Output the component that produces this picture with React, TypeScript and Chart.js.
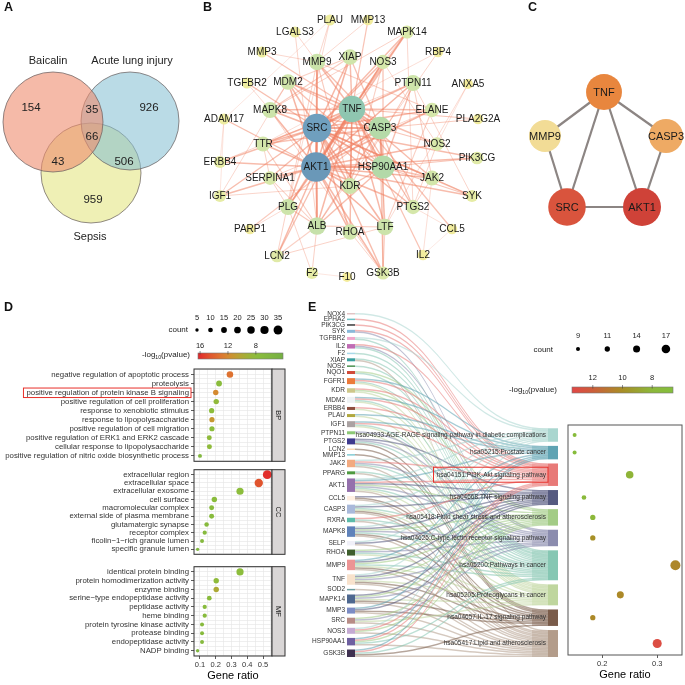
import React, { useEffect, useRef } from "react";
import { Chart, registerables } from "chart.js";

Chart.register(...registerables);
const FONT = "'Liberation Sans', Arial, Helvetica, sans-serif";
Chart.defaults.font.family = FONT;
Chart.defaults.color = "#333";

// ================= Panel A : Venn =================
const vennSets = ["Baicalin", "Acute lung injury", "Sepsis"];
const vennCenterX = [53, 130, 91];
const vennCenterY = [122, 121, 173];
const vennRadius = [50, 49, 50];
const vennRegionValues = [154, 926, 959, 35, 43, 506, 66];
const vennRegionX = [31, 149, 93, 92, 58, 124, 92];
const vennRegionY = [108, 108, 200, 110, 162, 162, 137];
const vennSetLabelX = [48, 132, 90];
const vennSetLabelY = [61, 61, 237];

// ================= Panel B : PPI network =================
const netNames = ["PLAU","MMP13","LGALS3","MAPK14","MMP3","MMP9","XIAP","NOS3","RBP4","TGFBR2","MDM2","PTPN11","ANXA5","MAPK8","TNF","ELANE","ADAM17","SRC","CASP3","PLA2G2A","TTR","NOS2","ERBB4","AKT1","HSP90AA1","PIK3CG","SERPINA1","JAK2","KDR","IGF1","SYK","PLG","PTGS2","PARP1","ALB","RHOA","LTF","CCL5","LCN2","IL2","F2","F10","GSK3B"];
const netX = [330,368,295,407,262,317,350,383,438,247,288,413,468,270,352,432,224,317,380,478,263,437,220,316,383,477,270,432,350,220,472,288,413,250,317,350,385,452,277,423,312,347,383];
const netY = [20,20,32,32,52,62,57,62,52,83,82,83,84,110,109,110,119,128,128,119,144,144,162,167,167,158,178,178,186,196,196,207,207,229,226,232,227,229,256,255,273,277,273];
const netDegree = [4,3,4,8,4,14,12,10,3,4,12,13,2,13,32,10,4,36,25,3,11,9,6,38,26,7,9,11,13,6,6,13,10,3,16,12,14,3,7,3,6,2,8];
const netEdges = [
  "AKT1-SRC","AKT1-TNF","AKT1-CASP3","AKT1-HSP90AA1","AKT1-KDR","AKT1-ALB","AKT1-RHOA","AKT1-PLG","AKT1-LCN2","AKT1-GSK3B","AKT1-MMP9","AKT1-MDM2","AKT1-XIAP","AKT1-NOS3","AKT1-PTPN11","AKT1-MAPK8","AKT1-TTR","AKT1-SERPINA1","AKT1-JAK2","AKT1-PTGS2","AKT1-LTF","AKT1-NOS2","AKT1-ELANE","AKT1-IGF1","AKT1-ERBB4","AKT1-ADAM17","AKT1-PIK3CG","AKT1-SYK","AKT1-MAPK14",
  "SRC-TNF","SRC-CASP3","SRC-HSP90AA1","SRC-KDR","SRC-MAPK8","SRC-MAPK14","SRC-PTPN11","SRC-MMP9","SRC-XIAP","SRC-RHOA","SRC-ALB","SRC-PLG","SRC-TTR","SRC-JAK2","SRC-PIK3CG","SRC-SYK","SRC-ERBB4","SRC-IGF1","SRC-NOS3","SRC-ELANE","SRC-GSK3B","SRC-PTGS2","SRC-TGFBR2","SRC-MDM2","SRC-LTF",
  "TNF-CASP3","TNF-HSP90AA1","TNF-MMP9","TNF-MAPK8","TNF-MAPK14","TNF-NOS3","TNF-NOS2","TNF-PTGS2","TNF-ALB","TNF-LTF","TNF-IL2","TNF-CCL5","TNF-MMP3","TNF-MMP13","TNF-ELANE","TNF-TTR","TNF-SERPINA1","TNF-RHOA","TNF-XIAP","TNF-PLG","TNF-KDR","TNF-LCN2","TNF-MDM2","TNF-JAK2","TNF-PLA2G2A",
  "CASP3-HSP90AA1","CASP3-XIAP","CASP3-MDM2","CASP3-MMP9","CASP3-MAPK8","CASP3-PARP1","CASP3-PTGS2","CASP3-ALB","CASP3-NOS2","CASP3-PLA2G2A","CASP3-LTF","CASP3-GSK3B","CASP3-TTR",
  "HSP90AA1-NOS3","HSP90AA1-JAK2","HSP90AA1-KDR","HSP90AA1-PTPN11","HSP90AA1-MDM2","HSP90AA1-PIK3CG","HSP90AA1-GSK3B","HSP90AA1-ALB","HSP90AA1-SYK",
  "F2-F10","F2-PLG","F2-ALB","PLG-SERPINA1","PLG-PARP1","PLG-ALB","PLG-PLAU","ALB-LTF","ALB-TTR","ALB-SERPINA1","ALB-RBP4","ALB-LCN2","ALB-LGALS3","LTF-ELANE","LTF-LCN2","LTF-ANXA5","ELANE-SERPINA1","MMP9-MMP3","MMP9-MMP13","MMP9-LCN2","MMP9-PLAU","MMP9-ELANE","MMP9-LGALS3","MMP9-KDR","NOS3-KDR","NOS3-NOS2","NOS3-MAPK14","JAK2-SYK","JAK2-PTPN11","JAK2-IL2","JAK2-PTGS2","PTPN11-KDR","PTPN11-SYK","PTPN11-ERBB4","MAPK8-MAPK14","MAPK8-XIAP","MAPK8-GSK3B","MAPK8-MDM2","XIAP-MDM2","MDM2-IGF1","KDR-IGF1","RHOA-GSK3B","TTR-RBP4","PLAU-ADAM17","NOS2-ANXA5","NOS2-PTGS2","CCL5-IL2","CCL5-PTGS2","ERBB4-ADAM17","IGF1-ADAM17","MAPK14-PTGS2","GSK3B-LTF","SERPINA1-TTR","TGFBR2-MAPK8"
];

// ================= Panel C : hub genes =================
const hubNames = ["TNF", "MMP9", "CASP3", "SRC", "AKT1"];
const hubX = [604, 545, 666, 567, 642];
const hubY = [92, 136, 136, 207, 207];
const hubScore = [0.7, 0.15, 0.45, 0.93, 1.0];
const hubEdges = ["TNF-MMP9", "TNF-CASP3", "TNF-SRC", "TNF-AKT1", "MMP9-SRC", "CASP3-AKT1", "SRC-AKT1"];

// ================= Panel D : GO enrichment =================
const bpTerms = ["negative regulation of apoptotic process","proteolysis","positive regulation of protein kinase B signaling","positive regulation of cell proliferation","response to xenobiotic stimulus","response to lipopolysaccharide","positive regulation of cell migration","positive regulation of ERK1 and ERK2 cascade","cellular response to lipopolysaccharide","positive regulation of nitric oxide biosynthetic process"];
const bpRatio = [0.29, 0.221, 0.2, 0.203, 0.174, 0.176, 0.176, 0.159, 0.16, 0.1];
const bpCount = [19, 15, 13, 13, 12, 12, 12, 11, 11, 7];
const bpLogP = [13.2, 7.6, 12.0, 8.3, 8.0, 11.2, 8.0, 8.2, 8.2, 6.4];

const ccTerms = ["extracellular region","extracellular space","extracellular exosome","cell surface","macromolecular complex","external side of plasma membrane","glutamatergic synapse","receptor complex","ficolin\u22121\u2212rich granule lumen","specific granule lumen"];
const ccRatio = [0.527, 0.473, 0.354, 0.191, 0.174, 0.174, 0.142, 0.13, 0.113, 0.085];
const ccCount = [35, 31, 23, 13, 11, 11, 9, 8, 7, 5];
const ccLogP = [16.0, 14.6, 8.0, 7.6, 7.4, 7.4, 7.2, 7.0, 6.8, 6.0];

const mfTerms = ["identical protein binding","protein homodimerization activity","enzyme binding","serine\u2212type endopeptidase activity","peptidase activity","heme binding","protein tyrosine kinase activity","protease binding","endopeptidase activity","NADP binding"];
const mfRatio = [0.354, 0.203, 0.203, 0.159, 0.13, 0.13, 0.113, 0.113, 0.113, 0.085];
const mfCount = [23, 13, 13, 10, 8, 8, 7, 7, 7, 5];
const mfLogP = [8.0, 8.2, 9.9, 7.6, 7.4, 7.4, 7.2, 7.2, 7.0, 6.0];

const dXTicks = [0.1, 0.15, 0.2, 0.25, 0.3, 0.35, 0.4, 0.45, 0.5, 0.55];
const dLegendCounts = [5, 10, 15, 20, 25, 30, 35];
const dLegendLogP = [16, 12, 8];

// ================= Panel E : KEGG sankey + dot plot =================
const sankeyGenes = ["NOX4","EPHA2","PIK3CG","SYK","TGFBR2","IL2","F2","XIAP","NOS2","NQO1","FGFR1","KDR","MDM2","ERBB4","PLAU","IGF1","PTPN11","PTGS2","LCN2","MMP13","JAK2","PPARG","AKT1","CCL5","CASP3","RXRA","MAPK8","SELP","RHOA","MMP9","TNF","SOD2","MAPK14","MMP3","SRC","NOS3","HSP90AA1","GSK3B"];
const pathwayIds = ["hsa04933","hsa05215","hsa04151","hsa04668","hsa05418","hsa04625","hsa05200","hsa05205","hsa04657","hsa05417"];
const pathwayNames = ["AGE-RAGE signaling pathway in diabetic complications","Prostate cancer","PI3K-Akt signaling pathway","TNF signaling pathway","Fluid shear stress and atherosclerosis","C-type lectin receptor signaling pathway","Pathways in cancer","Proteoglycans in cancer","IL-17 signaling pathway","Lipid and atherosclerosis"];
const pathwayGenes = [
  ["NOX4","TGFBR2","JAK2","AKT1","CASP3","MAPK8","SELP","TNF","NOS3"],
  ["FGFR1","MDM2","PLAU","IGF1","AKT1","MMP3","MMP9","HSP90AA1","GSK3B"],
  ["EPHA2","PIK3CG","SYK","IL2","FGFR1","KDR","MDM2","ERBB4","IGF1","JAK2","AKT1","RXRA","NOS3","HSP90AA1","GSK3B"],
  ["CASP3","CCL5","AKT1","MAPK8","MAPK14","MMP3","MMP9","PTGS2","SELP","TNF"],
  ["NQO1","KDR","AKT1","MAPK8","RHOA","MMP9","TNF","MAPK14","SRC","NOS3","HSP90AA1"],
  ["SYK","IL2","PTPN11","PTGS2","JAK2","AKT1","MAPK8","RHOA","TNF","MAPK14","SRC"],
  ["TGFBR2","IL2","F2","XIAP","NOS2","NQO1","FGFR1","MDM2","IGF1","PTGS2","JAK2","PPARG","AKT1","CASP3","RXRA","MAPK8","RHOA","MMP9","HSP90AA1","GSK3B"],
  ["FGFR1","KDR","MDM2","ERBB4","PLAU","IGF1","PTPN11","AKT1","CASP3","RHOA","MMP9","TNF","MAPK14","SRC"],
  ["LCN2","MMP13","PTGS2","CCL5","CASP3","MAPK8","TNF","MAPK14","MMP3","MMP9","GSK3B"],
  ["XIAP","JAK2","PPARG","AKT1","CCL5","CASP3","RXRA","MAPK8","SELP","MMP9","TNF","SOD2","MAPK14","MMP3","SRC","NOS3","HSP90AA1","GSK3B"]
];
const pathwayRatio = [0.15, 0.15, 0.25, 0.167, 0.183, 0.183, 0.333, 0.233, 0.183, 0.3];
const pathwayCount = [9, 9, 15, 10, 11, 11, 20, 14, 11, 18];
const pathwayLogP = [7.2, 7.0, 8.2, 7.6, 8.0, 9.9, 10.3, 10.2, 10.2, 13.0];
const eLegendCounts = [9, 11, 14, 17];
const eLegendLogP = [12, 10, 8];
const eXTicks = [0.2, 0.3];

// ================= styles =================
const vennFills = ["rgba(238,140,110,0.6)", "rgba(130,190,210,0.55)", "rgba(225,228,120,0.55)"];
const geneColors = ["#e2c4c4","#6ec3c6","#3a3a3a","#8ab8d8","#f0a8cc","#c06cb4","#a8d8e8","#3aa0a0","#4a9050","#d04a38","#ec7a3a","#cdc78a","#eef2f4","#8e4e3e","#b0a83e","#aaa2a2","#8cc876","#3e3a8e","#f8d8b4","#84ccd4","#f2aa80","#4e9a40","#9470ac","#fff0e2","#a9b9da","#5cbcaa","#5f82ba","#f0f0f8","#3e5e2c","#ec9494","#f8e2cc","#6e9ea0","#4e6890","#7c8cc4","#b88c86","#c4aad2","#6e60a0","#3e3050"];
const pathwayColors = ["#a9d6cf","#5fa3b3","#e87a78","#555a80","#a3cc86","#8b8cae","#86c7b3","#bfd69e","#7a5c4a","#b39c8a"];

function hexToRgb(h: string) {
  const n = parseInt(h.slice(1), 16);
  return [(n >> 16) & 255, (n >> 8) & 255, n & 255];
}
function rgba(h: string, a: number) {
  const [r, g, b] = hexToRgb(h);
  return `rgba(${r},${g},${b},${a})`;
}
function makeColormap(stops: [number, string][]) {
  return (v: number) => {
    if (v <= stops[0][0]) return stops[0][1];
    for (let i = 1; i < stops.length; i++) {
      if (v <= stops[i][0]) {
        const [a, ca] = stops[i - 1];
        const [b, cb] = stops[i];
        const t = (v - a) / (b - a);
        const A = hexToRgb(ca), B = hexToRgb(cb);
        return `rgb(${Math.round(A[0] + (B[0] - A[0]) * t)},${Math.round(A[1] + (B[1] - A[1]) * t)},${Math.round(A[2] + (B[2] - A[2]) * t)})`;
      }
    }
    return stops[stops.length - 1][1];
  };
}
const degreeColor = makeColormap([[2, "#f4ec9c"], [5, "#ebeda2"], [8, "#dbe9aa"], [13, "#cde4aa"], [20, "#bddcaa"], [26, "#b3d9a8"], [32, "#8fc6b0"], [36, "#6f9fbe"], [38, "#6a98b8"]]);
const hubColor = makeColormap([[0.15, "#f2dc96"], [0.45, "#eeaa64"], [0.7, "#e8863e"], [0.93, "#d9543d"], [1.0, "#cf4238"]]);
const colorD = makeColormap([[4, "#74b043"], [8, "#8cbd3c"], [9.5, "#a5ae36"], [11, "#c39a31"], [12, "#d48a30"], [13, "#de7630"], [14.5, "#e0572e"], [16.3, "#e2262b"]]);
const colorE = makeColormap([[6.6, "#84be3c"], [8, "#8cb83a"], [10, "#a88e26"], [12, "#cc5e3a"], [13.4, "#e24646"]]);
const radiusD = (c: number) => 0.75 * Math.sqrt(c);
const radiusE = (c: number) => 2 + (Math.sqrt(c) - 3) * 2.04;
const netRadius = (d: number) => 4.4 + 0.275 * d;

const baseOptions = (extra: any) => ({
  animation: false,
  responsive: false,
  maintainAspectRatio: false,
  events: [],
  plugins: { legend: { display: false }, tooltip: { enabled: false } },
  ...extra,
});

function drawLogLabel(ctx: any, xRight: number, y: number, size: number) {
  ctx.textAlign = "left";
  ctx.textBaseline = "middle";
  ctx.font = `${size}px ${FONT}`;
  const w1 = ctx.measureText("-log").width;
  const w3 = ctx.measureText("(pvalue)").width;
  ctx.font = `${size * 0.65}px ${FONT}`;
  const w2 = ctx.measureText("10").width;
  const x0 = xRight - (w1 + w2 + w3);
  ctx.font = `${size}px ${FONT}`;
  ctx.fillText("-log", x0, y);
  ctx.font = `${size * 0.65}px ${FONT}`;
  ctx.fillText("10", x0 + w1, y + size * 0.3);
  ctx.font = `${size}px ${FONT}`;
  ctx.fillText("(pvalue)", x0 + w1 + w2, y);
}

function drawColorbar(ctx: any, x0: number, x1: number, y: number, h: number, vL: number, vR: number, cmap: (v: number) => string, ticks: number[], labelY: number) {
  const grad = ctx.createLinearGradient(x0, 0, x1, 0);
  for (let i = 0; i <= 20; i++) grad.addColorStop(i / 20, cmap(vL + (vR - vL) * (i / 20)));
  ctx.fillStyle = grad;
  ctx.fillRect(x0, y - h / 2, x1 - x0, h);
  ctx.strokeStyle = "#777";
  ctx.lineWidth = 0.6;
  ctx.strokeRect(x0, y - h / 2, x1 - x0, h);
  ctx.fillStyle = "#222";
  ctx.textAlign = "center";
  ctx.textBaseline = "middle";
  ctx.font = `7.5px ${FONT}`;
  ticks.forEach((t) => {
    const x = x0 + ((t - vL) / (vR - vL)) * (x1 - x0);
    ctx.fillText(String(t), x, labelY);
    ctx.beginPath();
    ctx.moveTo(x, y - h / 2 - 2);
    ctx.lineTo(x, y - h / 2 + 1.5);
    ctx.strokeStyle = "#444";
    ctx.stroke();
  });
}

// ---------------- Venn ----------------
const vennConfig = () => ({
  type: "bubble",
  data: {
    datasets: vennSets.map((name, i) => ({
      label: name,
      data: [{ x: vennCenterX[i], y: vennCenterY[i], r: vennRadius[i] }],
      backgroundColor: vennFills[i],
      borderColor: "rgba(110,100,100,0.75)",
      borderWidth: 1,
      clip: false,
    })),
  },
  options: baseOptions({
    layout: { padding: 0, autoPadding: false },
    scales: {
      x: { type: "linear", display: false, min: 0, max: 205 },
      y: { type: "linear", display: false, min: 0, max: 250, reverse: true },
    },
  }),
  plugins: [
    {
      id: "vennText",
      afterDatasetsDraw(chart: any) {
        const { ctx, scales } = chart;
        ctx.save();
        ctx.fillStyle = "#222";
        ctx.textAlign = "center";
        ctx.textBaseline = "middle";
        ctx.font = `11.5px ${FONT}`;
        vennRegionValues.forEach((v, i) => ctx.fillText(String(v), scales.x.getPixelForValue(vennRegionX[i]), scales.y.getPixelForValue(vennRegionY[i])));
        ctx.font = `11px ${FONT}`;
        vennSets.forEach((s, i) => ctx.fillText(s, scales.x.getPixelForValue(vennSetLabelX[i]), scales.y.getPixelForValue(vennSetLabelY[i])));
        ctx.restore();
      },
    },
  ],
});

// ---------------- networks ----------------
function networkConfig(names: string[], xs: number[], ys: number[], radii: number[], colors: string[], edges: string[], xr: [number, number], yr: [number, number], edgeStyle: (a: number, b: number) => [string, number], fontSize: number) {
  const idx: Record<string, number> = {};
  names.forEach((n, i) => (idx[n] = i));
  return {
    type: "scatter",
    data: {
      datasets: [
        {
          data: names.map((_, i) => ({ x: xs[i], y: ys[i] })),
          pointRadius: radii,
          pointHoverRadius: radii,
          pointBackgroundColor: colors,
          pointBorderWidth: 0,
          clip: false,
        },
      ],
    },
    options: baseOptions({
      layout: { padding: 0, autoPadding: false },
      scales: {
        x: { type: "linear", display: false, min: xr[0], max: xr[1] },
        y: { type: "linear", display: false, min: yr[0], max: yr[1], reverse: true },
      },
    }),
    plugins: [
      {
        id: "netEdges",
        beforeDatasetsDraw(chart: any) {
          const { ctx, scales } = chart;
          ctx.save();
          edges.forEach((e) => {
            const [a, b] = e.split("-").map((n) => idx[n]);
            const [col, w] = edgeStyle(a, b);
            ctx.strokeStyle = col;
            ctx.lineWidth = w;
            ctx.beginPath();
            ctx.moveTo(scales.x.getPixelForValue(xs[a]), scales.y.getPixelForValue(ys[a]));
            ctx.lineTo(scales.x.getPixelForValue(xs[b]), scales.y.getPixelForValue(ys[b]));
            ctx.stroke();
          });
          ctx.restore();
        },
        afterDatasetsDraw(chart: any) {
          const { ctx, scales } = chart;
          ctx.save();
          ctx.fillStyle = "#1a1a1a";
          ctx.textAlign = "center";
          ctx.textBaseline = "middle";
          ctx.font = `${fontSize}px ${FONT}`;
          names.forEach((n, i) => ctx.fillText(n, scales.x.getPixelForValue(xs[i]), scales.y.getPixelForValue(ys[i]) + 0.5));
          ctx.restore();
        },
      },
    ],
  };
}

const networkBConfig = () =>
  networkConfig(
    netNames, netX, netY, netDegree.map(netRadius), netDegree.map(degreeColor), netEdges, [195, 510], [0, 290],
    (a, b) => {
      const s = netDegree[a] + netDegree[b];
      const alpha = 0.22 + (Math.min(s, 70) / 70) * 0.5;
      return [`rgba(240,128,98,${alpha.toFixed(2)})`, 0.55 + s / 50];
    },
    10
  );

const networkCConfig = () =>
  networkConfig(hubNames, hubX, hubY, hubScore.map((s) => 15.5 + 3.5 * s), hubScore.map(hubColor), hubEdges, [505, 685], [0, 280], () => ["#8c8583", 2.2], 11);

// ---------------- GO facets ----------------
const isTenth = (v: number) => Math.abs(v * 10 - Math.round(v * 10)) < 1e-6;
const halfSteps = Array.from({ length: 21 }, (_, k) => -0.5 + k * 0.5);

function facetConfig(terms: string[], ratio: number[], count: number[], logp: number[], strip: string, kind: string, padTop: number, padBottom: number, highlight: number | null) {
  const bottom = kind === "bottom";
  const plugins: any[] = [
    {
      id: "facetDecor",
      afterDraw(chart: any) {
        const { ctx, chartArea: a } = chart;
        ctx.save();
        ctx.strokeStyle = "#333";
        ctx.lineWidth = 1;
        ctx.strokeRect(a.left, a.top, a.right - a.left, a.bottom - a.top);
        ctx.fillStyle = "#d9d6d6";
        ctx.fillRect(a.right, a.top, 13, a.bottom - a.top);
        ctx.strokeRect(a.right, a.top, 13, a.bottom - a.top);
        ctx.translate(a.right + 6.5, (a.top + a.bottom) / 2);
        ctx.rotate(Math.PI / 2);
        ctx.fillStyle = "#1a1a1a";
        ctx.font = `7.5px ${FONT}`;
        ctx.textAlign = "center";
        ctx.textBaseline = "middle";
        ctx.fillText(strip, 0, 0);
        ctx.restore();
        if (highlight !== null) {
          ctx.save();
          ctx.font = `7.8px ${FONT}`;
          const w = ctx.measureText(terms[highlight]).width;
          const yp = chart.scales.y.getPixelForValue(highlight);
          const xr = a.left - 5;
          ctx.strokeStyle = "#e8302a";
          ctx.lineWidth = 1;
          ctx.strokeRect(xr - w - 3, yp - 4.5, w + 5, 9.5);
          ctx.restore();
        }
      },
    },
  ];
  if (kind === "top") {
    plugins.push({
      id: "dLegend",
      afterDraw(chart: any) {
        const ctx = chart.ctx;
        const oy = 300;
        ctx.save();
        ctx.textAlign = "center";
        ctx.textBaseline = "middle";
        dLegendCounts.forEach((c, i) => {
          const x = 197 + i * 13.5;
          ctx.fillStyle = "#222";
          ctx.font = `7.5px ${FONT}`;
          ctx.fillText(String(c), x, 318 - oy);
          ctx.beginPath();
          ctx.arc(x, 330 - oy, radiusD(c), 0, Math.PI * 2);
          ctx.fillStyle = "#000";
          ctx.fill();
        });
        ctx.fillStyle = "#222";
        ctx.font = `8px ${FONT}`;
        ctx.textAlign = "right";
        ctx.fillText("count", 188, 330 - oy);
        drawLogLabel(ctx, 190, 355 - oy, 8);
        drawColorbar(ctx, 198, 283, 356 - oy, 6, 16.3, 4.1, colorD, dLegendLogP, 346 - oy);
        ctx.restore();
      },
    });
  }
  return {
    type: "bubble",
    data: {
      datasets: [
        {
          data: terms.map((_, i) => ({ x: ratio[i], y: i, r: radiusD(count[i]) })),
          backgroundColor: logp.map(colorD),
          borderWidth: 0,
          hoverRadius: 0,
          clip: false,
        },
      ],
    },
    options: baseOptions({
      layout: { padding: { top: padTop, bottom: padBottom, left: 0, right: 18 }, autoPadding: false },
      scales: {
        x: {
          type: "linear",
          min: 0.062,
          max: 0.557,
          afterBuildTicks: (s: any) => {
            s.ticks = dXTicks.map((v) => ({ value: v }));
          },
          afterFit: (s: any) => {
            s.height = bottom ? 27 : 0;
          },
          border: { display: false },
          ticks: {
            display: bottom,
            autoSkip: false,
            maxRotation: 0,
            padding: 1,
            color: "#333",
            font: { size: 7.5 },
            callback: (v: number) => (isTenth(v) ? v.toFixed(1) : ""),
          },
          grid: {
            color: "#e4e4e4",
            lineWidth: 0.6,
            drawTicks: bottom,
            tickLength: 3,
            tickWidth: 0.8,
            tickColor: (c: any) => (c.tick && isTenth(c.tick.value) && c.tick.value < 0.52 ? "#333" : "rgba(0,0,0,0)"),
          },
          title: { display: bottom, text: "Gene ratio", color: "#000", font: { size: 11 }, padding: { top: 0, bottom: 0 } },
        },
        y: {
          type: "linear",
          min: -0.6,
          max: 9.6,
          reverse: true,
          afterBuildTicks: (s: any) => {
            s.ticks = halfSteps.map((v) => ({ value: v }));
          },
          afterFit: (s: any) => {
            s.width = 194;
          },
          border: { display: false },
          ticks: {
            autoSkip: false,
            padding: 2,
            color: "#333",
            font: { size: 7.8 },
            callback: (v: number) => (Number.isInteger(v) && v >= 0 && v < terms.length ? terms[v] : ""),
          },
          grid: {
            color: "#e4e4e4",
            lineWidth: 0.6,
            tickLength: 3,
            tickWidth: 0.8,
            tickColor: (c: any) => (c.tick && Number.isInteger(c.tick.value) && c.tick.value >= 0 ? "#333" : "rgba(0,0,0,0)"),
          },
        },
      },
    }),
    plugins,
  };
}

const bpConfig = () => facetConfig(bpTerms, bpRatio, bpCount, bpLogP, "BP", "top", 69, 6, 2);
const ccConfig = () => facetConfig(ccTerms, ccRatio, ccCount, ccLogP, "CC", "mid", 3, 3, null);
const mfConfig = () => facetConfig(mfTerms, mfRatio, mfCount, mfLogP, "MF", "bottom", 4, 2, null);

// ---------------- Sankey layout (derived from membership) ----------------
const GAP = 2.75;
const geneTotals = sankeyGenes.map((g) => pathwayGenes.filter((l) => l.includes(g)).length);
const geneStart: number[] = [];
let accL = 0;
geneTotals.forEach((t) => {
  geneStart.push(accL);
  accL += t + GAP;
});
const leftTotal = accL - GAP;
const pathTotals = pathwayGenes.map((l) => l.length);
const rightTotal = pathTotals.reduce((a, b) => a + b, 0) + GAP * (pathTotals.length - 1);
const pathStart: number[] = [];
let accR = leftTotal - rightTotal;
pathTotals.forEach((t) => {
  pathStart.push(accR);
  accR += t + GAP;
});
const links: { g: number; p: number; g0: number; p0: number }[] = [];
{
  const gSlot = sankeyGenes.map(() => 0);
  const pSlot = pathwayIds.map(() => 0);
  const pPos: Record<string, number> = {};
  pathwayGenes.forEach((list, p) => {
    sankeyGenes.forEach((g, gi) => {
      if (list.includes(g)) pPos[gi + "-" + p] = pathStart[p] + pSlot[p]++;
    });
  });
  sankeyGenes.forEach((g, gi) => {
    pathwayGenes.forEach((list, p) => {
      if (list.includes(g)) links.push({ g: gi, p, g0: geneStart[gi] + gSlot[gi]++, p0: pPos[gi + "-" + p] });
    });
  });
}
const SK_TOP = 313, SK_BOTTOM = 657, BOX_TOP = 425, BOX_BOTTOM = 655;
const pxPerUnit = (SK_BOTTOM - SK_TOP) / leftTotal;
const bubbleYMin = (BOX_TOP - SK_TOP) / pxPerUnit;
const bubbleYMax = (BOX_BOTTOM - SK_TOP) / pxPerUnit;

const sankeyConfig = () => ({
  type: "scatter",
  data: { datasets: [] },
  options: baseOptions({
    layout: { padding: { left: 47, right: 4, top: SK_TOP - 300, bottom: 685 - SK_BOTTOM }, autoPadding: false },
    scales: {
      x: { type: "linear", display: false, min: 0, max: 1 },
      y: { type: "linear", display: false, min: 0, max: leftTotal, reverse: true },
    },
  }),
  plugins: [
    {
      id: "sankey",
      afterDraw(chart: any) {
        const { ctx, scales } = chart;
        const xs = scales.x, ys = scales.y;
        const xl0 = xs.getPixelForValue(0), xl1 = xl0 + 8;
        const xr1 = xs.getPixelForValue(1), xr0 = xr1 - 10;
        const xm = (xl1 + xr0) / 2;
        ctx.save();
        links.forEach((l) => {
          const ya0 = ys.getPixelForValue(l.g0), ya1 = ys.getPixelForValue(l.g0 + 1);
          const yb0 = ys.getPixelForValue(l.p0), yb1 = ys.getPixelForValue(l.p0 + 1);
          ctx.beginPath();
          ctx.moveTo(xl1, ya0);
          ctx.bezierCurveTo(xm, ya0, xm, yb0, xr0, yb0);
          ctx.lineTo(xr0, yb1);
          ctx.bezierCurveTo(xm, yb1, xm, ya1, xl1, ya1);
          ctx.closePath();
          ctx.fillStyle = rgba(pathwayColors[l.p], 0.55);
          ctx.fill();
        });
        ctx.font = `6.5px ${FONT}`;
        ctx.textAlign = "right";
        ctx.textBaseline = "middle";
        sankeyGenes.forEach((g, i) => {
          const y0 = ys.getPixelForValue(geneStart[i]), y1 = ys.getPixelForValue(geneStart[i] + geneTotals[i]);
          ctx.fillStyle = geneColors[i];
          ctx.fillRect(xl0, y0, 8, y1 - y0);
          ctx.fillStyle = "#333";
          ctx.fillText(g, xl0 - 2, (y0 + y1) / 2);
        });
        pathwayIds.forEach((id, p) => {
          const y0 = ys.getPixelForValue(pathStart[p]), y1 = ys.getPixelForValue(pathStart[p] + pathTotals[p]);
          ctx.fillStyle = rgba(pathwayColors[p], 0.35);
          ctx.fillRect(xr0 - 16, y0, 16, y1 - y0);
          ctx.fillStyle = pathwayColors[p];
          ctx.fillRect(xr0, y0, 10, y1 - y0);
          const label = `${id}:${pathwayNames[p]}`;
          ctx.fillStyle = "#333";
          ctx.fillText(label, xr0 - 2, (y0 + y1) / 2);
          if (id === "hsa04151") {
            const w = ctx.measureText(label).width;
            ctx.strokeStyle = "#e8302a";
            ctx.lineWidth = 1;
            ctx.strokeRect(xr0 - 2 - w - 3, (y0 + y1) / 2 - 7.5, w + 5, 15);
          }
        });
        ctx.restore();
      },
    },
  ],
});

const keggBubbleConfig = () => ({
  type: "bubble",
  data: {
    datasets: [
      {
        data: pathwayIds.map((_, p) => ({ x: pathwayRatio[p], y: pathStart[p] + pathTotals[p] / 2, r: radiusE(pathwayCount[p]) })),
        backgroundColor: pathwayLogP.map(colorE),
        borderWidth: 0,
        hoverRadius: 0,
        clip: false,
      },
    ],
  },
  options: baseOptions({
    layout: { padding: { left: 68, right: 3, top: BOX_TOP - 300, bottom: 3 }, autoPadding: false },
    scales: {
      x: {
        type: "linear",
        min: 0.138,
        max: 0.345,
        afterBuildTicks: (s: any) => {
          s.ticks = eXTicks.map((v) => ({ value: v }));
        },
        afterFit: (s: any) => {
          s.height = 27;
        },
        border: { display: false },
        ticks: { autoSkip: false, maxRotation: 0, padding: 1, color: "#333", font: { size: 7.5 }, callback: (v: number) => v.toFixed(1) },
        grid: { drawOnChartArea: false, color: "rgba(0,0,0,0)", tickLength: 3, tickWidth: 0.8, tickColor: "#333" },
        title: { display: true, text: "Gene ratio", color: "#000", font: { size: 11 }, padding: { top: 0, bottom: 0 } },
      },
      y: { type: "linear", display: false, min: bubbleYMin, max: bubbleYMax, reverse: true },
    },
  }),
  plugins: [
    {
      id: "keggDecor",
      afterDraw(chart: any) {
        const { ctx, chartArea: a } = chart;
        const ox = 500, oy = 300;
        ctx.save();
        ctx.strokeStyle = "#555";
        ctx.lineWidth = 1;
        ctx.strokeRect(a.left, a.top, a.right - a.left, a.bottom - a.top);
        ctx.textAlign = "center";
        ctx.textBaseline = "middle";
        eLegendCounts.forEach((c, i) => {
          const x = 578 + i * 29.3 - ox;
          ctx.fillStyle = "#222";
          ctx.font = `7.5px ${FONT}`;
          ctx.fillText(String(c), x, 336 - oy);
          ctx.beginPath();
          ctx.arc(x, 349 - oy, radiusE(c), 0, Math.PI * 2);
          ctx.fillStyle = "#000";
          ctx.fill();
        });
        ctx.fillStyle = "#222";
        ctx.font = `8px ${FONT}`;
        ctx.textAlign = "right";
        ctx.fillText("count", 553 - ox, 350 - oy);
        drawLogLabel(ctx, 557 - ox, 390 - oy, 8);
        drawColorbar(ctx, 572 - ox, 673 - ox, 390 - oy, 6, 13.4, 6.6, colorE, eLegendLogP, 378 - oy);
        ctx.restore();
      },
    },
  ],
});

// ================= components =================
function ChartCanvas({ left, top, width, height, config }: { left: number; top: number; width: number; height: number; config: () => any }) {
  const ref = useRef<HTMLCanvasElement | null>(null);
  useEffect(() => {
    if (!ref.current) return;
    const chart = new Chart(ref.current, config());
    return () => chart.destroy();
  }, []);
  return (
    <div style={{ position: "absolute", left, top, width, height }}>
      <canvas ref={ref} width={width} height={height} style={{ width, height, display: "block" }} />
    </div>
  );
}

const panelLetters = [
  { t: "A", x: 4, y: 1 },
  { t: "B", x: 203, y: 1 },
  { t: "C", x: 528, y: 1 },
  { t: "D", x: 4, y: 301 },
  { t: "E", x: 308, y: 301 },
];

export default function App() {
  return (
    <div style={{ position: "absolute", left: 0, top: 0, width: 685, height: 685, background: "#fff", overflow: "hidden", fontFamily: FONT }}>
      <ChartCanvas left={0} top={0} width={205} height={250} config={vennConfig} />
      <ChartCanvas left={195} top={0} width={315} height={290} config={networkBConfig} />
      <ChartCanvas left={505} top={0} width={180} height={280} config={networkCConfig} />
      <ChartCanvas left={0} top={300} width={290} height={168} config={bpConfig} />
      <ChartCanvas left={0} top={463} width={290} height={98} config={ccConfig} />
      <ChartCanvas left={0} top={560} width={290} height={125} config={mfConfig} />
      <ChartCanvas left={300} top={300} width={262} height={385} config={sankeyConfig} />
      <ChartCanvas left={500} top={300} width={185} height={385} config={keggBubbleConfig} />
      {panelLetters.map((p) => (
        <div key={p.t} style={{ position: "absolute", left: p.x, top: p.y, fontSize: 12.5, lineHeight: "12px", fontWeight: "bold", fontFamily: FONT, color: "#111" }}>
          {p.t}
        </div>
      ))}
    </div>
  );
}
